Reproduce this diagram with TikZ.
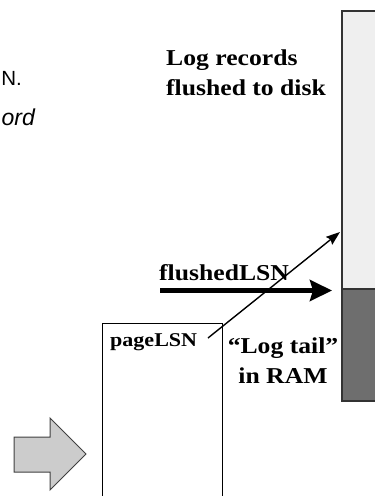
\documentclass[tikz,border=0pt]{standalone}
\usepackage{fontspec}
\setmainfont[FakeStretch=1.13]{Liberation Serif}
\newfontfamily\sansf{Liberation Sans}
\usetikzlibrary{arrows.meta}
\definecolor{diskgray}{HTML}{EFEFEF}
\definecolor{tailgray}{HTML}{6E6E6E}
\definecolor{arrowgray}{HTML}{CCCCCC}
\tikzset{
  lbl/.style={font=\bfseries\fontsize{22.7}{30}\selectfont, inner sep=0pt},
  frag/.style={font=\sansf\fontsize{20.5}{24}\selectfont, inner sep=0pt},
  logcol/.style={draw=black!80, line width=1.2pt},
  thinarrow/.style={line width=1.4pt, -{Stealth[length=14pt,width=10pt,inset=2pt]}},
  thickarrow/.style={line width=5pt, -{Stealth[length=22pt,width=21pt,inset=3pt]}},
  pagebox/.style={draw=black, line width=1pt},
}
\begin{document}
\begin{tikzpicture}[x=1pt,y=-1pt]
\useasboundingbox (0,0) rectangle (375,496);
\clip (0,0) rectangle (375,496);

% log column
\draw[logcol, fill=diskgray] (342,11) rectangle (390,289);
\draw[logcol, fill=tailgray] (342,289) rectangle (390,401);
\coordinate (diskin) at (340,232);
\coordinate (tailtop) at (332,290.5);
\coordinate (flstart) at (160,290.5);

% page box
\draw[pagebox] (102,323) rectangle (222,510);

% texts
\node[frag, anchor=base east] (fragN) at (22,85) {N.};
\node[frag, font=\sansf\itshape\fontsize{23}{26}\selectfont, anchor=base east] (fragord) at (35,125) {ord};
\node[lbl, anchor=north west, align=left] (flushed) at (166,50) {Log records\\flushed to disk};
\node[lbl, anchor=base west] (flsn) at (159,280) {flushedLSN};
\node[lbl, font=\bfseries\fontsize{19.5}{24}\selectfont, anchor=base west] (plsn) at (110,346) {pageLSN};
\node[lbl, anchor=north, align=center] (tail) at (283,337.5) {“Log tail”\\in RAM};

% arrows
\coordinate (pstart) at (208,338);
\draw[thickarrow] (flstart) -- (tailtop);
\draw[thinarrow] (pstart) -- (diskin);

% block arrow
\draw[fill=arrowgray, draw=black!75, line width=1pt, line join=miter]
  (14,437) -- (50,437) -- (50,418) -- (86,454) -- (50,490) -- (50,472) -- (14,472) -- cycle;
\end{tikzpicture}
\end{document}
